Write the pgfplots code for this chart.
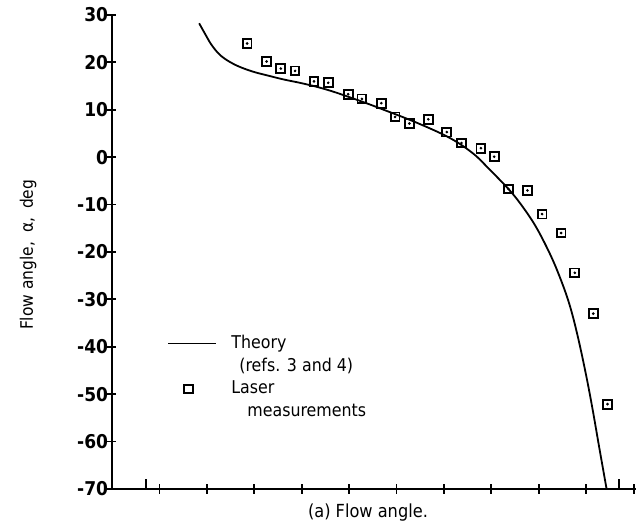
\documentclass[border=0pt]{standalone}
\usepackage{pgfplots}
\pgfplotsset{compat=1.18}
\usepackage{pgfplotstable}
\usepackage{fontspec}
\setmainfont{DejaVu Sans Condensed}

\pgfplotsset{
  lineleg/.style={legend image code/.code={\draw[##1] (0pt,0pt) -- (24pt,0pt);}},
  markleg/.style={legend image code/.code={\draw[##1] plot coordinates {(10pt,0pt)};}},
}

% theory curve (refs. 3 and 4)
\pgfplotstableread{
x y
1.838 28.25
1.958 26.10
2.099 23.70
2.274 21.60
2.484 20.10
2.695 19.05
2.975 18.04
3.257 17.30
3.606 16.43
3.958 15.70
4.309 14.87
4.659 13.85
5.011 12.65
5.362 11.40
5.705 10.10
6.420 7.30
7.116 4.10
7.610 0.82
7.958 -2.55
8.379 -6.92
8.659 -10.44
8.941 -14.70
9.221 -20.10
9.432 -25.00
9.642 -30.90
9.817 -37.60
9.994 -45.80
10.133 -53.10
10.274 -61.20
10.430 -70.00
}\theory

% laser measurements
\pgfplotstableread{
x y
2.85 24.0
3.26 20.2
3.56 18.7
3.86 18.2
4.26 16.0
4.56 15.7
4.98 13.3
5.27 12.3
5.68 11.4
5.97 8.5
6.27 7.1
6.67 8.0
7.06 5.3
7.37 3.0
7.78 1.9
8.06 0.1
8.36 -6.7
8.76 -7.0
9.07 -12.0
9.47 -16.0
9.76 -24.4
10.15 -33.0
10.45 -52.1
}\laser

\begin{document}
\begin{tikzpicture}
\begin{axis}[
  scale only axis, width=262pt, height=237pt,
  xmin=0, xmax=11.05, ymin=-70, ymax=30,
  clip=false,
  axis lines=left, axis line style={-, line width=1pt},
  xtick={1,...,11}, xticklabels={},
  ytick={-70,-60,...,30},
  yticklabels={-70,-60,-50,-40,-30,-20,-10,0,10,20,30},
  tick align=center, major tick length=4.5pt,
  tick style={black, line width=0.9pt},
  yticklabel style={font=\fontsize{9.5}{11}\selectfont\bfseries, inner sep=0pt, xshift=0.5pt},
  extra x ticks={0.72,10.69}, extra x tick labels={},
  extra x tick style={tick align=inside, major tick length=5pt},
  ylabel={Flow angle,\hspace{2pt} α,\hspace{2pt} deg},
  ylabel style={at={(axis description cs:-0.16,0.494)}, anchor=center,
    font=\fontsize{8.6}{10}\selectfont},
  xlabel={(a) Flow angle.},
  xlabel style={at={(axis description cs:0.4885,0)}, anchor=north, inner sep=0pt, yshift=-7pt,
    font=\fontsize{9}{11}\selectfont},
  legend style={draw=none, fill=none, at={(axis cs:1.16,-36.8)}, anchor=north west,
    inner sep=0pt, row sep=0pt, font=\fontsize{8.8}{11}\selectfont,
    nodes={text height=7pt, text depth=2.2pt, inner sep=1.1pt}},
  legend cell align=left,
]
\addplot[black, line width=0.9pt, smooth, tension=0.6, lineleg] table {\theory};
\addlegendentry{\hspace{6pt}Theory}
\addlegendimage{empty legend}
\addlegendentry{\hspace{10pt}(refs. 3 and 4)}
\addplot[black, only marks, mark=square, mark size=2.2pt, mark options={line width=0.95pt},
  markleg] table {\laser};
\addlegendentry{\hspace{6pt}Laser}
\addlegendimage{empty legend}
\addlegendentry{\hspace{14pt}measurements}
\addplot[black, only marks, mark=*, mark size=0.45pt, forget plot] table {\laser};
\end{axis}
\pgfresetboundingbox
\path[use as bounding box] (-56pt,-17.5pt) rectangle (265pt,244.5pt);
\end{tikzpicture}
\end{document}
